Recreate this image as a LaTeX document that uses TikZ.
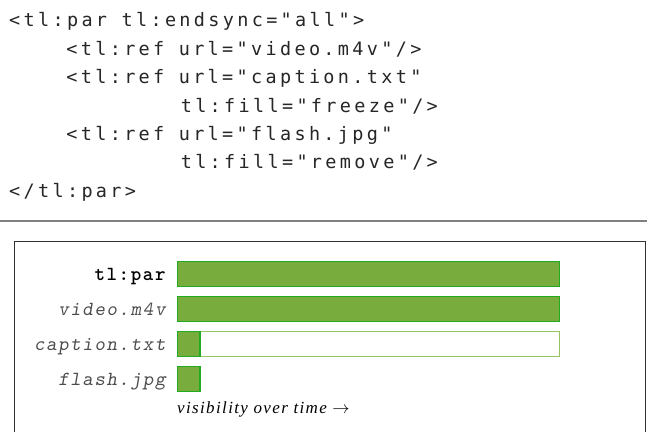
\documentclass[tikz,border=0pt]{standalone}
\usepackage{fontspec}
\usetikzlibrary{positioning}
\newfontfamily\codefont{DejaVu Sans Mono}[LetterSpace=18]
\newfontfamily\lblfont{lmmonoslant10-regular.otf}[LetterSpace=8]
\newfontfamily\lblbold{lmmonolt10-bold.otf}[LetterSpace=8]
\newfontfamily\notefont{Liberation Serif}[LetterSpace=8]
\definecolor{barfill}{HTML}{78AC3C}
\definecolor{barline}{HTML}{22AA22}
\definecolor{ghostline}{HTML}{94C660}

\begin{document}
\begin{tikzpicture}[x=1pt, y=-1pt,
  code/.style={anchor=base west, inner sep=0pt,
               font=\codefont\fontsize{18.5}{20}\selectfont, text=black!85},
  bar/.style={draw=barline, line width=1.5pt, fill=barfill, anchor=west,
              minimum height=25pt, minimum width=382pt, inner sep=0pt},
  blip/.style={bar, minimum width=22.5pt},
  ghost/.style={bar, draw=ghostline, fill=white},
  lbl/.style={inner sep=0pt, text height=14pt, text depth=2pt,
              font=\lblfont\fontsize{20}{22}\selectfont, text=black!70},
  lblb/.style={lbl, font=\lblbold\fontsize{20}{22}\selectfont, text=black},
  note/.style={anchor=base west, inner sep=0pt,
               font=\notefont\itshape\fontsize{17}{19}\selectfont},
]
\useasboundingbox (0,0) rectangle (647,431);

\node[code] (open)    at (9,27)      {<tl:par tl:endsync="all">};
\node[code] (video)   at (66.2,55.3) {<tl:ref url="video.m4v"/>};
\node[code] (caption) at (66.2,83.6) {<tl:ref url="caption.txt"};
\node[code] (freeze)  at (180.6,112) {tl:fill="freeze"/>};
\node[code] (flash)   at (66.2,140.3){<tl:ref url="flash.jpg"};
\node[code] (remove)  at (180.6,168.6){tl:fill="remove"/>};
\node[code] (close)   at (9,197)     {</tl:par>};

\draw[black!50, line width=1.3pt] (0,221) -- (647,221);
\draw[black!80, line width=1.3pt] (14.3,241.7) rectangle (645.3,445);

\node[bar] (parbar) at (176.75,274) {};
\node[lblb, left=11pt of parbar] (parlbl) {tl:par};

\node[bar] (videobar) at (176.75,309) {};
\node[lbl, left=11pt of videobar] (videolbl) {video.m4v};

\node[ghost] (captionbar) at (176.75,344) {};
\node[blip] (captionblip) at (176.75,344) {};
\node[lbl, left=11pt of captionbar] (captionlbl) {caption.txt};

\node[blip] (flashbar) at (176.75,379) {};
\node[lbl, left=11pt of flashbar] (flashlbl) {flash.jpg};

\node[note] (axis) at (177,413.5) {visibility over time $\rightarrow$};
\end{tikzpicture}
\end{document}
